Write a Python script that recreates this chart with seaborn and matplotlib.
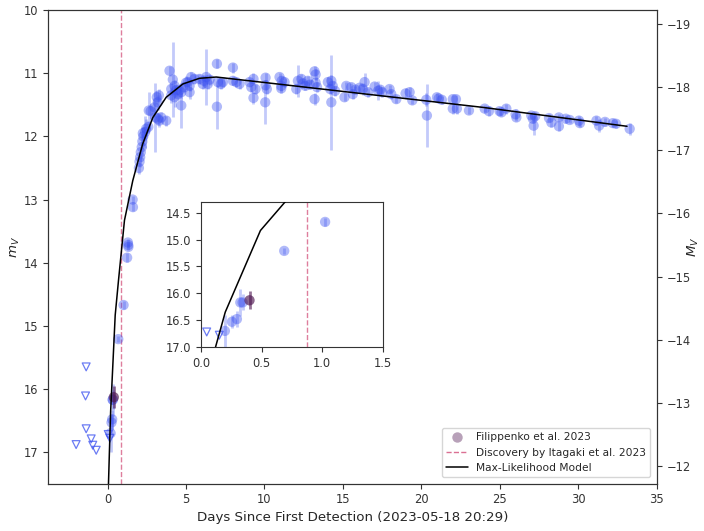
import numpy as np
import pandas as pd
import matplotlib
matplotlib.use("Agg")
import matplotlib.pyplot as plt
import seaborn as sns
from matplotlib.lines import Line2D

# ---------------- data ----------------
obs_days = [0.197, 0.255, 0.296, 0.324, 0.343, 0.686, 1.023, 1.25, 1.30, 1.32, 1.33, 1.60, 1.62,
            2.00, 2.04, 2.08, 2.12, 2.18, 2.22, 2.28, 2.25, 2.40, 2.46, 2.60, 2.63, 2.75, 3.05, 2.99,
            3.20, 3.14, 3.27, 3.31, 3.20, 3.42, 3.74, 3.95, 4.06, 4.16, 4.27, 4.06, 4.27, 4.48, 4.37,
            4.70, 4.59, 4.70, 5.12, 5.23, 5.33, 5.23, 5.00, 4.90,
            5.54, 5.86, 6.07, 6.29, 6.39, 6.15, 6.50, 6.97, 6.97, 7.03, 7.23, 7.35, 7.99, 7.99, 8.20,
            8.41, 9.05, 9.16, 9.30, 9.30, 9.43, 10.05, 10.07, 10.07, 10.15, 10.96, 11.07, 11.07, 11.28,
            11.10, 12.03, 12.13, 12.35, 12.45, 12.60, 12.76, 12.90, 13.19, 13.26, 13.19, 13.26, 13.35,
            14.04, 14.19, 14.26, 14.26, 14.35, 14.50, 15.10, 15.21, 15.53, 15.63, 15.80, 16.06, 16.27,
            16.38, 16.60, 17.02, 17.23, 17.38, 17.50, 17.97, 18.08, 18.40, 18.99, 19.25, 19.42, 20.31,
            20.35, 20.99, 21.10, 21.30, 22.00, 22.20, 22.00, 22.26, 23.03, 24.03, 24.30, 24.98, 25.10,
            25.41, 26.00, 26.05, 27.00, 27.10, 27.25, 27.15, 28.13, 28.28, 28.76, 28.76, 29.20, 29.45,
            30.04, 30.10, 31.15, 31.32, 31.70, 32.20, 32.40, 33.27]
obs_mag = [16.70, 16.53, 16.48, 16.17, 16.17, 15.21, 14.67, 13.92, 13.68, 13.72, 13.75, 13.00, 13.12,
           12.50, 12.40, 12.33, 12.25, 12.17, 12.08, 12.00, 11.95, 11.93, 11.88, 11.85, 11.59, 11.60, 11.70, 11.54,
           11.46, 11.38, 11.35, 11.75, 11.72, 11.70, 11.75, 10.96, 11.25, 11.10, 11.20, 11.35, 11.38, 11.33, 11.27,
           11.51, 11.27, 11.30, 11.14, 11.30, 11.06, 11.20, 11.15, 11.22,
           11.09, 11.09, 11.17, 11.06, 11.17, 11.12, 11.10, 10.85, 11.53, 11.14, 11.17, 11.14, 10.91, 11.12, 11.14,
           11.17, 11.14, 11.22, 11.09, 11.39, 11.25, 11.46, 11.19, 11.07, 11.25, 11.06, 11.20, 11.24, 11.14,
           11.12, 11.25, 11.12, 11.09, 11.16, 11.20, 11.12, 11.18, 10.97, 11.02, 11.41, 11.15, 11.22,
           11.14, 11.25, 11.46, 11.12, 11.20, 11.28, 11.38, 11.20, 11.22, 11.33, 11.26, 11.23, 11.25,
           11.14, 11.30, 11.21, 11.28, 11.26, 11.30, 11.25, 11.33, 11.41, 11.32, 11.30, 11.43, 11.42,
           11.67, 11.38, 11.40, 11.42, 11.41, 11.41, 11.56, 11.56, 11.59, 11.56, 11.60, 11.60, 11.62,
           11.56, 11.65, 11.70, 11.67, 11.72, 11.68, 11.83, 11.71, 11.78, 11.70, 11.84, 11.72, 11.74,
           11.75, 11.79, 11.75, 11.83, 11.77, 11.79, 11.80, 11.88]
obs_err = [0.30, 0.12, 0.15, 0.25, 0.15, 0.05, 0.07, 0.07, 0.05, 0.05, 0.05, 0.06, 0.06,
           0.10, 0.08, 0.08, 0.10, 0.10, 0.12, 0.15, 0.10, 0.25, 0.15, 0.10, 0.30, 0.12, 0.55, 0.15,
           0.12, 0.10, 0.10, 0.10, 0.10, 0.08, 0.08, 0.08, 0.10, 0.60, 0.10, 0.12, 0.15, 0.10, 0.10,
           0.35, 0.10, 0.10, 0.08, 0.10, 0.08, 0.08, 0.10, 0.08,
           0.08, 0.08, 0.08, 0.45, 0.08, 0.10, 0.08, 0.07, 0.35, 0.07, 0.08, 0.07, 0.08, 0.07, 0.07,
           0.08, 0.07, 0.08, 0.10, 0.10, 0.08, 0.35, 0.08, 0.08, 0.08, 0.07, 0.08, 0.08, 0.07,
           0.08, 0.08, 0.25, 0.08, 0.08, 0.07, 0.08, 0.07, 0.08, 0.08, 0.10, 0.08, 0.08,
           0.08, 0.08, 0.75, 0.10, 0.08, 0.08, 0.06, 0.06, 0.06, 0.07, 0.06, 0.06, 0.10,
           0.15, 0.07, 0.07, 0.15, 0.07, 0.08, 0.07, 0.07, 0.06, 0.08, 0.08, 0.06, 0.10,
           0.50, 0.06, 0.06, 0.06, 0.07, 0.07, 0.08, 0.08, 0.05, 0.06, 0.08, 0.06, 0.06,
           0.08, 0.08, 0.06, 0.06, 0.06, 0.06, 0.15, 0.06, 0.07, 0.05, 0.07, 0.06, 0.05,
           0.08, 0.06, 0.07, 0.10, 0.06, 0.06, 0.06, 0.10]

lim_days = [-1.36, -1.40, -1.36, -2.00, -1.04, -0.94, -0.72, 0.047, 0.151]
lim_mag = [15.65, 16.11, 16.63, 16.88, 16.79, 16.89, 16.97, 16.72, 16.78]

fil_days = [0.40]
fil_mag = [16.13]
fil_err = [0.17]

model_days = [0.05, 0.12, 0.20, 0.49, 0.70, 1.08, 1.61, 2.24, 2.89, 3.74, 4.80, 5.86, 6.93,
              9.05, 12.24, 15.42, 18.60, 23.90, 33.10]
model_mag = [17.60, 17.00, 16.35, 14.83, 14.28, 13.33, 12.70, 12.12, 11.70, 11.38, 11.17, 11.08, 11.06,
             11.12, 11.21, 11.30, 11.39, 11.54, 11.84]

discovery_day = 0.87
dist_mod = 29.22

obs = pd.DataFrame({"day": obs_days, "mag": obs_mag, "err": obs_err})
lim = pd.DataFrame({"day": lim_days, "mag": lim_mag})
fil = pd.DataFrame({"day": fil_days, "mag": fil_mag, "err": fil_err})
model = pd.DataFrame({"day": model_days, "mag": model_mag})

# ---------------- style ----------------
sns.set_style("ticks", {"axes.edgecolor": ".2", "xtick.color": ".2", "ytick.color": ".2"})
plt.rcParams["font.family"] = ["DejaVu Sans"]
plt.rcParams["xtick.labelsize"] = 8.3
plt.rcParams["ytick.labelsize"] = 8.3
plt.rcParams["axes.labelsize"] = 9.6
plt.rcParams["legend.fontsize"] = 7.7

BLUE = "#3a50f0"
PURPLE = "#4e1650"
PINK = "palevioletred"

fig = plt.figure(figsize=(7.04, 5.31), dpi=100)
ax = fig.add_axes([0.068, 0.089, 0.865, 0.892])


def draw(a, s=55):
    a.errorbar(obs["day"], obs["mag"], yerr=obs["err"], fmt="none", ecolor=BLUE,
               alpha=0.3, elinewidth=2, zorder=1)
    sns.scatterplot(data=obs, x="day", y="mag", ax=a, color=BLUE, alpha=0.4, s=s,
                    edgecolor="none", zorder=2, legend=False)
    sns.scatterplot(data=lim, x="day", y="mag", ax=a, marker="v", facecolor="none",
                    edgecolor=BLUE, linewidth=0.9, s=32, alpha=0.75, zorder=2, legend=False)
    a.axvline(discovery_day, color=PINK, ls="--", lw=1.0, alpha=0.9, zorder=1)
    a.errorbar(fil["day"], fil["mag"], yerr=fil["err"], fmt="none", ecolor=PURPLE,
               alpha=0.6, elinewidth=2, zorder=3)
    sns.scatterplot(data=fil, x="day", y="mag", ax=a, color=PURPLE, alpha=0.65, s=s,
                    edgecolor="none", zorder=4, legend=False)
    sns.lineplot(data=model, x="day", y="mag", ax=a, color="black", lw=1.1, zorder=5,
                 sort=False, legend=False)


draw(ax)
ax.set_xlim(-3.8, 35)
ax.set_ylim(17.5, 10)
ax.set_xticks([0, 5, 10, 15, 20, 25, 30, 35])
ax.set_xlabel("Days Since First Detection (2023-05-18 20:29)", labelpad=3)
ax.set_ylabel("$m_V$")
ax.yaxis.set_label_coords(-0.043, 0.5)

ax2 = ax.twinx()
ax2.set_ylim(17.5 - dist_mod, 10 - dist_mod)
ax2.set_yticks([-19, -18, -17, -16, -15, -14, -13, -12])
ax2.set_ylabel("$M_V$")
ax2.yaxis.set_label_coords(1.047, 0.5)

handles = [
    Line2D([], [], marker="o", ls="none", color=PURPLE, alpha=0.4, markersize=7.5,
           markeredgecolor="none", label="Filippenko et al. 2023"),
    Line2D([], [], color=PINK, ls="--", lw=1.0, label="Discovery by Itagaki et al. 2023"),
    Line2D([], [], color="black", lw=1.1, label="Max-Likelihood Model"),
]
ax.legend(handles=handles, loc="lower right", frameon=True, borderaxespad=0.6)

ins = fig.add_axes([0.2855, 0.3465, 0.2585, 0.273])
draw(ins)
ins.set_xlim(0, 1.5)
ins.set_ylim(17.0, 14.3)
ins.set_xticks([0.0, 0.5, 1.0, 1.5])
ins.set_yticks([14.5, 15.0, 15.5, 16.0, 16.5, 17.0])
ins.set_xlabel("")
ins.set_ylabel("")
for sp in ins.spines.values():
    sp.set_visible(True)

fig.savefig("out.png", dpi=100)
